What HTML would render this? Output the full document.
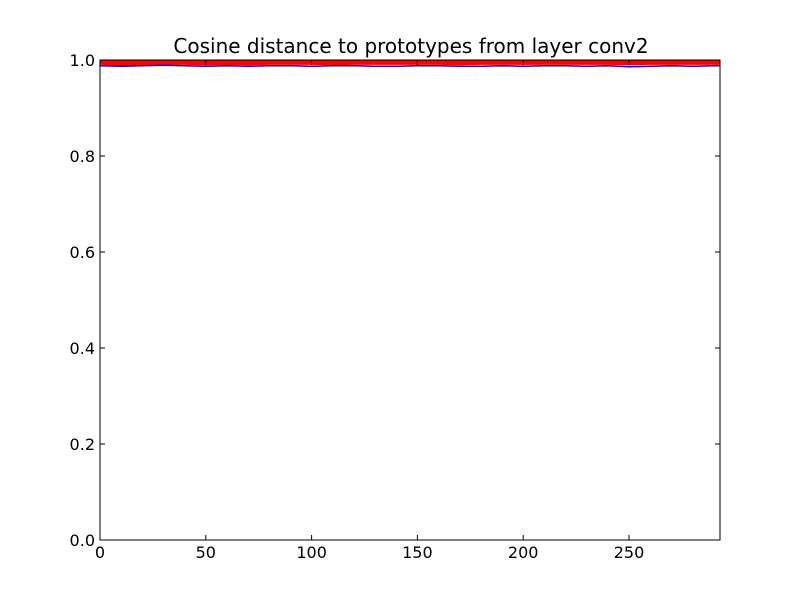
<!DOCTYPE html>
<html><head><meta charset="utf-8"><style>
body{margin:0;background:#fff;}
svg text{font-family:"DejaVu Sans","Liberation Sans",sans-serif;}
</style></head><body>
<svg id="chart" width="800" height="600" xmlns="http://www.w3.org/2000/svg">
<rect width="800" height="600" fill="#fff"/>
<text x="411" y="53" text-anchor="middle" font-size="20">Cosine distance to prototypes from layer conv2</text>
<g id="marks"></g>
<rect x="100" y="60" width="620" height="480" fill="none" stroke="#000" stroke-width="1"/>
<g id="axes"></g>
</svg>
<script>
const xs = [0,10,20,30,40,50,60,70,80,90,100,110,120,130,140,150,160,170,180,190,200,210,220,230,240,250,260,270,280,290,293];
const blueVals = [0.988,0.987,0.988,0.989,0.988,0.987,0.988,0.987,0.988,0.988,0.987,0.988,0.988,0.987,0.987,0.988,0.988,0.987,0.987,0.988,0.987,0.988,0.988,0.987,0.988,0.986,0.987,0.988,0.987,0.988,0.988];
const redLow = [0.991,0.989,0.990,0.991,0.991,0.990,0.991,0.990,0.991,0.991,0.991,0.990,0.991,0.991,0.991,0.991,0.991,0.990,0.991,0.991,0.991,0.991,0.991,0.991,0.991,0.990,0.991,0.991,0.991,0.991,0.991];
const redHigh = [0.999,0.999,0.999,0.999,0.999,0.999,0.999,0.999,0.999,0.999,0.999,0.999,0.999,0.999,0.999,0.999,0.999,0.999,0.999,0.999,0.999,0.999,0.999,0.999,0.999,0.999,0.999,0.999,0.999,0.999,0.999];
const xTicks = [0,50,100,150,200,250];
const yTicks = [0.0,0.2,0.4,0.6,0.8,1.0];
const xMax = 293;
const sx = v => 100 + v/xMax*620;
const sy = v => 540 - v*480;
const NS = "http://www.w3.org/2000/svg";
const marks = document.getElementById('marks');
const axes = document.getElementById('axes');
let d = xs.map((x,i)=>(i?'L':'M')+sx(x)+','+sy(redHigh[i])).join('') +
        xs.slice().reverse().map((x,j)=>'L'+sx(x)+','+sy(redLow[xs.length-1-j])).join('')+'Z';
const band = document.createElementNS(NS,'path');


band.setAttribute('d', d); band.setAttribute('fill','#ff0000'); band.setAttribute('stroke','#ff0000');
marks.appendChild(band);
const bl = document.createElementNS(NS,'path');


bl.setAttribute('d', xs.map((x,i)=>(i?'L':'M')+sx(x)+','+sy(blueVals[i])).join(''));
bl.setAttribute('fill','none'); bl.setAttribute('stroke','#0000ff'); bl.setAttribute('stroke-width','1.5');
marks.appendChild(bl);
xTicks.forEach(t=>{
  const l1=document.createElementNS(NS,'path');
  
  
  l1.setAttribute('d',`M${sx(t)},540v-5M${sx(t)},60v5`); l1.setAttribute('stroke','#000');
  axes.appendChild(l1);
  const tx=document.createElementNS(NS,'text');
  
  
  tx.setAttribute('x',sx(t)); tx.setAttribute('y',558); tx.setAttribute('text-anchor','middle'); tx.setAttribute('font-size','16');
  tx.textContent=t; axes.appendChild(tx);
});
yTicks.forEach(t=>{
  const l1=document.createElementNS(NS,'path');
  
  
  l1.setAttribute('d',`M100,${sy(t)}h5M720,${sy(t)}h-5`); l1.setAttribute('stroke','#000');
  axes.appendChild(l1);
  const tx=document.createElementNS(NS,'text');
  
  
  tx.setAttribute('x',95); tx.setAttribute('y',sy(t)+6); tx.setAttribute('text-anchor','end'); tx.setAttribute('font-size','16');
  tx.textContent=t.toFixed(1); axes.appendChild(tx);
});
</script>
</body></html>
